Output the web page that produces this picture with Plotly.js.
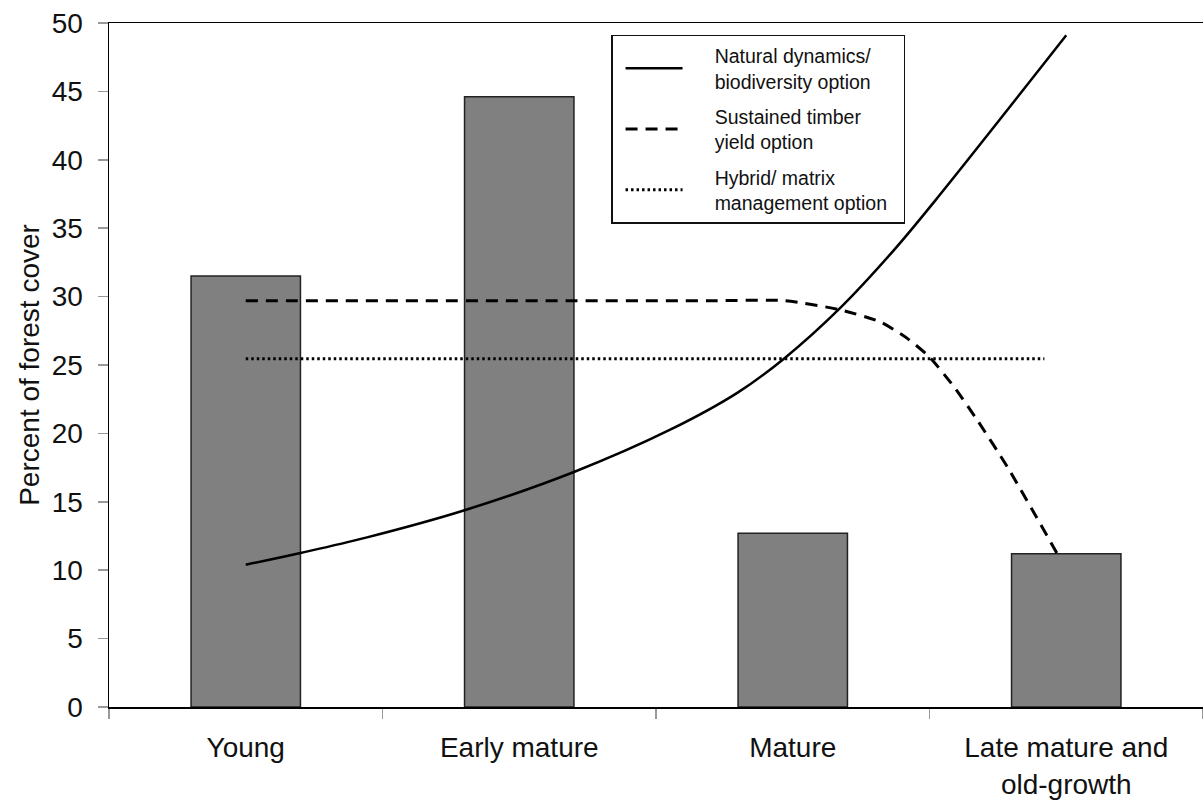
<!DOCTYPE html>
<html>
<head>
<meta charset="utf-8">
<script src="https://cdn.plot.ly/plotly-3.0.1.min.js"></script>
<style>html,body{margin:0;padding:0;background:#fff;}#chart{width:1203px;height:800px;}</style>
</head>
<body>
<div id="chart"></div>
<script>
// Categories (forest age classes) and their tick labels
const categories = ['Young', 'Early mature', 'Mature', 'Late mature and old-growth'];
const tickLabels = ['Young', 'Early mature', 'Mature', 'Late mature and<br>old-growth'];

// Bars: current percent of forest cover
const coverPct = [31.5, 44.6, 12.7, 11.2];

// Natural dynamics / biodiversity option (x in category units, 0 = Young)
const naturalX = [0, 0.2, 0.44, 0.8, 1.2, 1.55, 1.8, 1.97, 2.17, 2.37, 2.52, 3.0];
const naturalY = [10.4, 11.26, 12.38, 14.38, 17.18, 20.25, 23.0, 25.5, 29.1, 33.4, 37.0, 49.1];

// Sustained timber yield option
const timberX = [0, 1.0, 1.7, 1.97, 2.17, 2.32, 2.42, 2.5, 2.59, 2.675, 2.785, 2.97];
const timberY = [29.7, 29.7, 29.7, 29.7, 29.05, 28.15, 26.93, 25.58, 23.39, 20.96, 17.54, 11.1];

// Hybrid / matrix management option
const hybridX = [0, 2.92];
const hybridY = [25.45, 25.45];

// Legend labels (two lines each)
const seriesNames = [
  ['Natural dynamics/', 'biodiversity option'],
  ['Sustained timber', 'yield option'],
  ['Hybrid/ matrix', 'management option']
];

const FONT = 'Liberation Sans, Arial, sans-serif';
const pad = '\u00a0\u00a0\u00a0\u00a0\u00a0';
const legendName = (lines) => lines.map(s => pad + s + '\u00a0\u00a0').join('<br>');

const traces = [
  {
    type: 'bar', x: categories, y: coverPct, width: 0.4,
    marker: {color: '#808080', line: {color: '#222', width: 1.5}},
    showlegend: false, hoverinfo: 'x+y', xaxis: 'x', yaxis: 'y'
  },
  {
    type: 'scatter', mode: 'lines', x: naturalX, y: naturalY, name: legendName(seriesNames[0]),
    legendgroup: 'g1',
    line: {color: '#000', width: 2.5, shape: 'spline', smoothing: 1.0},
    xaxis: 'x2', yaxis: 'y'
  },
  {
    type: 'scatter', mode: 'lines', x: timberX, y: timberY, name: legendName(seriesNames[1]),
    legendgroup: 'g2',
    line: {color: '#000', width: 3, dash: '12px,8px', shape: 'spline', smoothing: 0.6},
    xaxis: 'x2', yaxis: 'y'
  },
  {
    type: 'scatter', mode: 'lines', x: hybridX, y: hybridY, name: legendName(seriesNames[2]),
    legendgroup: 'g3',
    line: {color: '#000', width: 3, dash: '2.5px,3px'},
    xaxis: 'x2', yaxis: 'y'
  }
];

const layout = {
  width: 1203, height: 800,
  margin: {l: 109, r: 0, t: 23, b: 93},
  paper_bgcolor: '#fff', plot_bgcolor: '#fff',
  font: {family: FONT, color: '#111', size: 28},
  showlegend: true,
  xaxis: {
    type: 'category', categoryorder: 'array', categoryarray: categories,
    tickmode: 'array', tickvals: categories, ticktext: tickLabels,
    range: [-0.5, 3.5],
    tickson: 'boundaries', ticks: 'outside', ticklen: 10, tickwidth: 1.5, tickcolor: '#999',
    showline: true, linecolor: '#000', linewidth: 1.5, mirror: true,
    showgrid: false, zeroline: false,
    tickfont: {family: FONT, size: 28, color: '#111'},
    ticklabelstandoff: 15
  },
  xaxis2: {
    overlaying: 'x', range: [-0.5, 3.5], visible: false, type: 'linear'
  },
  yaxis: {
    range: [0, 50], dtick: 5, tick0: 0,
    ticks: 'outside', ticklen: 10, tickwidth: 1.5, tickcolor: '#999',
    showline: true, linecolor: '#000', linewidth: 1.5,
    showgrid: false, zeroline: false,
    tickfont: {family: FONT, size: 28, color: '#111'},
    ticklabelstandoff: 9,
    title: {text: 'Percent of forest cover', font: {family: FONT, size: 28, color: '#111'}, standoff: 4}
  },
  legend: {
    x: 0.4589, y: 0.9825, xanchor: 'left', yanchor: 'top',
    bgcolor: '#fff', bordercolor: '#111', borderwidth: 1.5,
    font: {family: FONT, size: 19.5, color: '#111'},
    itemwidth: 57, indentation: 8, valign: 'middle',
    tracegroupgap: 7
  }
};

Plotly.newPlot('chart', traces, layout, {displayModeBar: false, staticPlot: true});
</script>
</body>
</html>
